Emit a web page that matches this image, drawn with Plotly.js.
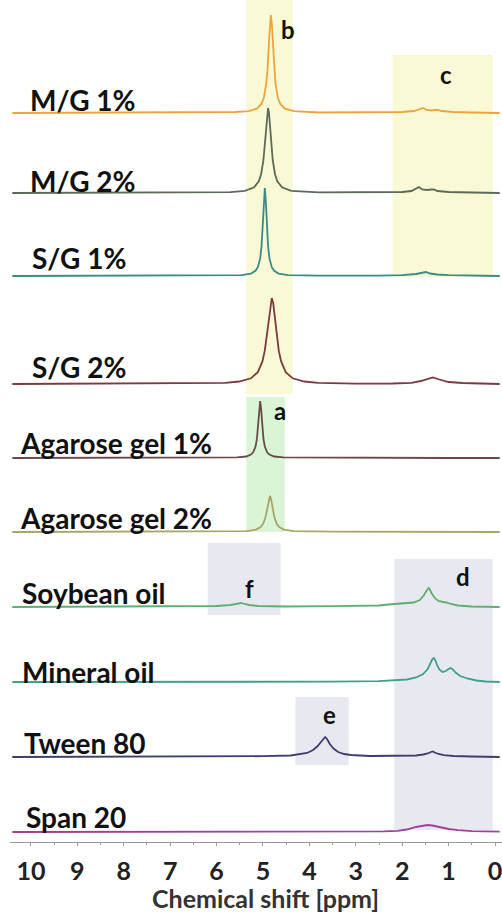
<!DOCTYPE html>
<html>
<head>
<meta charset="utf-8">
<script src="https://cdn.plot.ly/plotly-3.0.1.min.js"></script>
<style>html,body{margin:0;padding:0;background:#fff;}#chart{width:502px;height:915px;}</style>
</head>
<body>
<div id="chart"></div>
<script>
// ---------- DATA (chemical shift in ppm, intensity in arbitrary units) ----------
const sampleNames = ["M/G 1%", "M/G 2%", "S/G 1%", "S/G 2%", "Agarose gel 1%", "Agarose gel 2%", "Soybean oil", "Mineral oil", "Tween 80", "Span 20"];

const ppm_MG1 = [10.4, 7, 5.6, 5.3, 5.13, 5.03, 4.98, 4.93, 4.9, 4.87, 4.85, 4.83, 4.81, 4.79, 4.76, 4.73, 4.68, 4.63, 4.53, 4.33, 3.8, 2.5, 2.0, 1.75, 1.62, 1.55, 1.47, 1.38, 1.3, 1.23, 1.15, 0.9, 0.5, -0.1];
const int_MG1 = [0, 0.3, 1, 1.8, 4.4, 9.3, 15.5, 29, 45, 71, 89.5, 98, 89.5, 71, 45, 29, 15.5, 9.3, 4.4, 1.8, 0.5, 0.5, 1, 2, 3.5, 5, 3, 2.5, 3, 3, 2, 1, 0.5, 0];

const ppm_MG2 = [10.4, 7, 5.7, 5.39, 5.19, 5.09, 5.04, 4.99, 4.96, 4.93, 4.91, 4.89, 4.87, 4.85, 4.82, 4.79, 4.74, 4.69, 4.59, 4.39, 3.8, 2.5, 2.0, 1.8, 1.7, 1.64, 1.57, 1.45, 1.38, 1.32, 1.24, 1.0, 0.5, -0.1];
const int_MG2 = [0, 0.3, 0.8, 2.1, 5.7, 11.7, 18.8, 33, 48, 68, 80, 85, 80, 68, 48, 33, 18.8, 11.7, 5.7, 2.1, 0.6, 0.5, 1, 2, 4, 6, 3.5, 3, 3.5, 3.5, 2, 1, 0.5, 0];

const ppm_SG1 = [10.4, 7, 5.46, 5.26, 5.16, 5.11, 5.06, 5.03, 5.0, 4.98, 4.96, 4.94, 4.92, 4.89, 4.86, 4.81, 4.76, 4.66, 4.46, 3.8, 2.5, 2.0, 1.7, 1.58, 1.49, 1.4, 1.25, 1.0, 0.5, -0.1];
const int_SG1 = [0, 0.2, 0.9, 2.4, 5.2, 8.8, 17.6, 30, 54, 76, 88, 76, 54, 30, 17.6, 8.8, 5.2, 2.4, 0.9, 0.3, 0.3, 0.8, 2, 3, 4, 2.5, 1.5, 0.8, 0.3, 0];

const ppm_SG2 = [10.4, 7.5, 6.5, 5.81, 5.51, 5.26, 5.11, 5.01, 4.96, 4.91, 4.87, 4.84, 4.81, 4.78, 4.75, 4.71, 4.66, 4.61, 4.51, 4.36, 4.11, 3.81, 3.0, 2.2, 1.8, 1.6, 1.45, 1.34, 1.2, 1.0, 0.7, 0.3, -0.1];
const int_SG2 = [0, 0.3, 0.6, 1.2, 2.5, 5.7, 11.9, 22.8, 33.6, 51, 69, 81, 86, 81, 69, 51, 33.6, 22.8, 11.9, 5.7, 2.5, 1.2, 0.3, 0.5, 1.2, 3, 5, 6.5, 4.5, 2, 1, 0.3, 0];

const ppm_AG1 = [10.4, 7, 5.56, 5.36, 5.26, 5.21, 5.16, 5.13, 5.10, 5.08, 5.06, 5.04, 5.02, 4.99, 4.96, 4.91, 4.86, 4.76, 4.56, 3.5, 2, 1, -0.1];
const int_AG1 = [0, 0.2, 0.6, 1.5, 3.4, 5.7, 11.4, 19.3, 35, 49, 57, 49, 35, 19.3, 11.4, 5.7, 3.4, 1.5, 0.6, 0.2, 0, 0, 0];

const ppm_AG2 = [10.4, 7, 5.35, 5.15, 5.05, 5.0, 4.95, 4.92, 4.89, 4.87, 4.85, 4.83, 4.81, 4.78, 4.75, 4.70, 4.65, 4.55, 4.35, 3.5, 2, 1, -0.1];
const int_AG2 = [0, 0.2, 0.9, 2.4, 5, 8, 14, 20.4, 28.8, 34, 36, 34, 28.8, 20.4, 14, 8, 5, 2.4, 0.9, 0.3, 0, 0, 0];

const ppm_SOY = [10.4, 8, 6.5, 6.0, 5.7, 5.55, 5.47, 5.4, 5.3, 5.1, 4.5, 3.5, 2.8, 2.5, 2.3, 2.1, 1.9, 1.75, 1.62, 1.53, 1.48, 1.45, 1.43, 1.41, 1.37, 1.3, 1.22, 1.12, 1.05, 0.95, 0.8, 0.5, -0.1];
const int_SOY = [0, 0.3, 0.5, 1, 2, 3.5, 4, 3, 2, 1, 0.5, 0.8, 1, 1.5, 2.5, 3, 3.5, 4.5, 7, 12, 16, 18.5, 19, 18, 14, 9, 6, 5, 4.5, 3, 1.5, 0.5, 0];

const ppm_MIN = [10.4, 6, 3.5, 2.5, 2.1, 1.9, 1.7, 1.55, 1.45, 1.39, 1.35, 1.32, 1.29, 1.25, 1.2, 1.13, 1.06, 1.0, 0.96, 0.92, 0.85, 0.75, 0.6, 0.4, 0.2, -0.1];
const int_MIN = [0, 0, 0.3, 0.8, 1.5, 2.5, 4.5, 8, 13, 19, 23, 24, 22, 17, 12.5, 10, 11, 13, 14, 13, 9.5, 6, 3.5, 1.5, 0.5, 0];

const ppm_TW = [10.4, 7, 5, 4.4, 4.2, 4.05, 3.92, 3.82, 3.75, 3.7, 3.66, 3.62, 3.56, 3.48, 3.38, 3.25, 3.1, 2.7, 2.0, 1.7, 1.55, 1.45, 1.38, 1.34, 1.3, 1.22, 1.1, 0.9, 0.5, -0.1];
const int_TW = [0, 0.3, 0.8, 1.5, 2.5, 4, 7, 11, 15, 18.5, 20, 18, 13, 8.5, 5, 3, 2, 1, 1, 1.5, 2.5, 3.5, 5, 5.5, 4.5, 3, 1.8, 1, 0.5, 0];

const ppm_SP = [10.4, 5, 3, 2.4, 2.1, 1.9, 1.7, 1.55, 1.45, 1.35, 1.2, 1.0, 0.8, 0.5, -0.1];
const int_SP = [0, 0, 0.3, 0.6, 1.2, 2.5, 5, 6.5, 7, 6.5, 5, 3, 1.8, 0.8, 0.3];

const xTicks = [10, 9, 8, 7, 6, 5, 4, 3, 2, 1, 0];
const xTitle = "Chemical shift [ppm]";

// highlighted regions: label, ppm from, ppm to
const regionLabels = ["b", "c", "a", "f", "d", "e"];
const regionFrom   = [5.36, 2.21, 5.36, 6.19, 2.17, 4.30];
const regionTo     = [4.36, 0.05, 4.53, 4.62, 0.05, 3.15];

// ---------- LAYOUT / STYLE ----------
const spectraX = [ppm_MG1, ppm_MG2, ppm_SG1, ppm_SG2, ppm_AG1, ppm_AG2, ppm_SOY, ppm_MIN, ppm_TW, ppm_SP];
const spectraY = [int_MG1, int_MG2, int_SG1, int_SG2, int_AG1, int_AG2, int_SOY, int_MIN, int_TW, int_SP];
const lineColors = ["#eda43a", "#5b6a5a", "#3a8a86", "#7a3a40", "#6a4a48", "#a8a46a", "#5fb070", "#3fa08e", "#3e3e6e", "#a0409a"];
const stackBase = [729, 649, 566, 458, 384, 310, 235, 160, 85, 10];   // vertical stacking offsets
const labelLeft = [28, 28, 30, 30, 18, 18, 20, 20, 22, 24];          // px
const labelMid  = [100, 181, 258, 367, 443, 518, 593, 672, 743, 817]; // px from top

const H = 842; // plot height in px (y axis in px units)
const regionY0 = [448, 565, 310, 227, 12, 77];
const regionY1 = [842, 787, 445, 299, 283, 145];
const regionFill = ["#f9f9d6", "#f9f9d6", "#d9f5d5", "#e8e8f0", "#e8e8f0", "#e8e8f0"];
const regionLblX = [288, 446, 280, 249, 463, 329];
const regionLblY = [29, 74, 410, 588, 576, 714];

const FONT = "Lato, 'Open Sans', 'DejaVu Sans', sans-serif";

const traces = spectraX.map((xs, i) => ({
  type: "scatter", mode: "lines",
  x: xs,
  y: spectraY[i].map(v => v + stackBase[i]),
  line: {color: lineColors[i], width: 1.8},
  name: sampleNames[i], hoverinfo: "skip"
}));

const shapes = regionLabels.map((l, i) => ({
  type: "rect", xref: "x", yref: "y", layer: "below",
  x0: regionFrom[i], x1: regionTo[i], y0: regionY0[i], y1: regionY1[i],
  fillcolor: regionFill[i], line: {width: 0}
}));

const plotL = 10, plotW = 492;
const annotations = [];
sampleNames.forEach((n, i) => {
  annotations.push({
    text: "<b>" + n + "</b>", xref: "paper", yref: "y",
    x: (labelLeft[i] - plotL) / plotW, y: H - labelMid[i],
    xanchor: "left", yanchor: "middle", showarrow: false,
    font: {family: FONT, size: 28, color: "#111"}
  });
});
regionLabels.forEach((l, i) => {
  annotations.push({
    text: "<b>" + l + "</b>", xref: "paper", yref: "y",
    x: (regionLblX[i] - plotL) / plotW, y: H - regionLblY[i],
    xanchor: "center", yanchor: "middle", showarrow: false,
    font: {family: FONT, size: 24, color: "#111"}
  });
});
annotations.push({
  text: "<b>" + xTitle + "</b>", xref: "paper", yref: "paper",
  x: (265 - plotL) / plotW, y: (H - 898) / H,
  xanchor: "center", yanchor: "middle", showarrow: false,
  font: {family: FONT, size: 25, color: "#333"}
});

const layout = {
  width: 502, height: 915,
  margin: {l: plotL, r: 0, t: 0, b: 915 - H},
  paper_bgcolor: "#fff", plot_bgcolor: "#fff",
  showlegend: false,
  xaxis: {
    range: [10.45, -0.15], tickvals: xTicks, ticktext: xTicks.map(t => "<b>" + t + "</b>"),
    showgrid: false, zeroline: false, showline: true, linecolor: "#9a9a9a", linewidth: 1,
    ticks: "outside", ticklen: 3, tickcolor: "#9a9a9a",
    minor: {dtick: 0.5, ticks: "outside", ticklen: 2, tickcolor: "#9a9a9a"},
    tickfont: {family: FONT, size: 25, color: "#222"}, ticklabelstandoff: 4,
    ticklabeloverflow: "allow",
    fixedrange: true
  },
  yaxis: {range: [0, H], visible: false, fixedrange: true},
  shapes: shapes,
  annotations: annotations
};

Plotly.newPlot("chart", traces, layout, {staticPlot: true, displayModeBar: false});
</script>
</body>
</html>
